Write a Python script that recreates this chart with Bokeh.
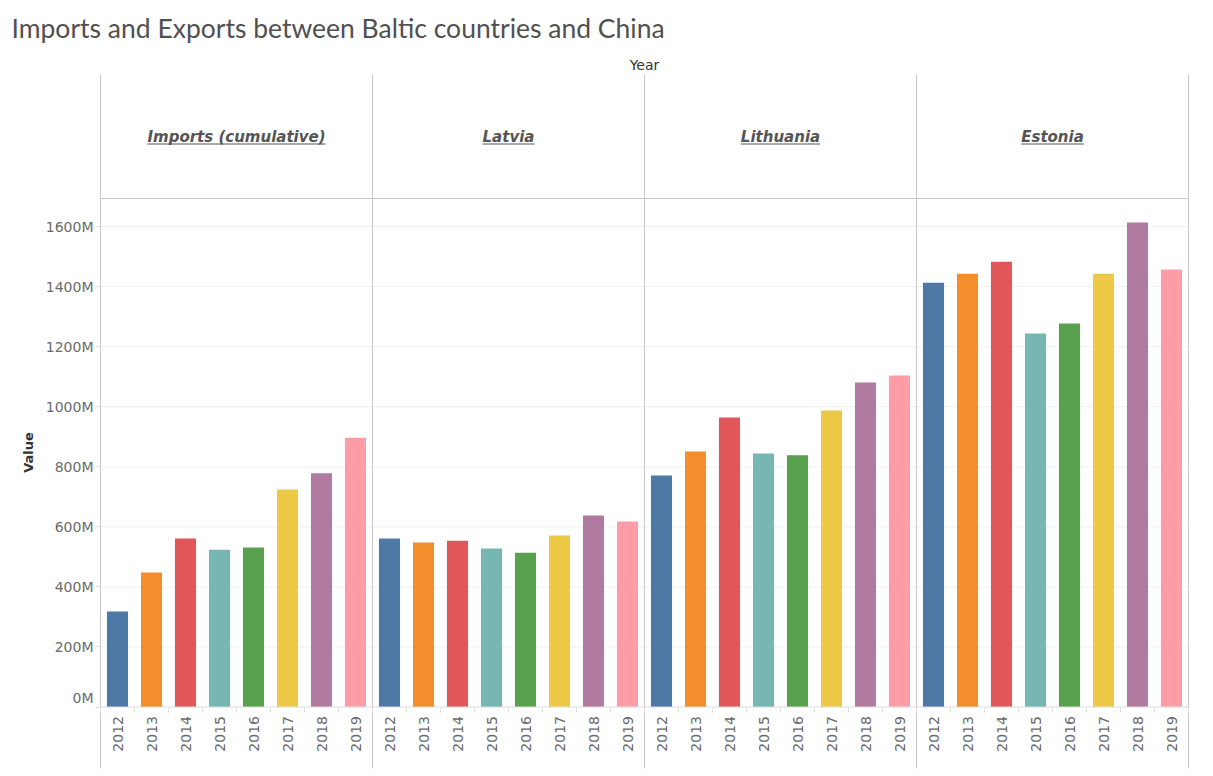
import math
from bokeh.plotting import figure
from bokeh.models import Range1d, FixedTicker, PrintfTickFormatter
from bokeh.core.properties import value
from bokeh.embed import file_html
from bokeh.resources import INLINE

# ---------------- data (values in millions) ----------------
title_text = "Imports and Exports between Baltic countries and China"
column_label = "Year"
value_label = "Value"
panels = ["Imports (cumulative)", "Latvia", "Lithuania", "Estonia"]
years = ["2012", "2013", "2014", "2015", "2016", "2017", "2018", "2019"]
imports_cumulative = [318, 448, 561, 524, 531, 724, 778, 897]
latvia = [561, 548, 554, 528, 514, 571, 638, 618]
lithuania = [771, 851, 964, 844, 838, 987, 1081, 1104]
estonia = [1413, 1443, 1483, 1244, 1277, 1443, 1613, 1457]
y_ticks = [0, 200, 400, 600, 800, 1000, 1200, 1400, 1600]
year_colors = ["#4e79a7", "#f28e2b", "#e15759", "#76b7b2",
               "#59a14f", "#edc948", "#b07aa1", "#ff9da7"]

series = [imports_cumulative, latvia, lithuania, estonia]

# ---------------- layout geometry (page pixels) ----------------
W, H = 1205, 772
FRAME_LEFT, FRAME_RIGHT = 100, 1188
PANEL_TOP, HEADER_BOTTOM, PANEL_BOTTOM = 74, 198, 768
ZERO_Y = 706.5
PX_PER_M = 0.3003
N = len(panels) * len(years)
PX_PER_UNIT = (FRAME_RIGHT - FRAME_LEFT) / N


def val_at(py):
    return (ZERO_Y - py) / PX_PER_M


def x_at(px):
    return (px - FRAME_LEFT) / PX_PER_UNIT


BORDER = "#c9c9c9"
TICK_FONT = "DejaVu Sans"
TICK_SIZE = "14px"
TICK_COLOR = "#6a6a6a"

p = figure(width=W, height=H,
           x_range=Range1d(x_at(0), x_at(W)), y_range=Range1d(val_at(H), val_at(0)),
           output_backend="svg", toolbar_location=None,
           min_border_left=0, min_border_right=0,
           min_border_top=0, min_border_bottom=0)
p.outline_line_color = None
p.background_fill_color = "white"
p.border_fill_color = "white"
p.xgrid.visible = False
p.ygrid.visible = False

# ---------------- gridlines ----------------
grid_vals = [t for t in y_ticks if t > 0]
p.segment(x0=[0] * len(grid_vals), x1=[N] * len(grid_vals), y0=grid_vals, y1=grid_vals,
          line_color="#f0f0f0", line_width=1)

# ---------------- bars ----------------
xs, tops, cols = [], [], []
for pi, vals in enumerate(series):
    for yi, v in enumerate(vals):
        xs.append(pi * len(years) + yi + 0.5)
        tops.append(v)
        cols.append(year_colors[yi])
p.vbar(x=xs, top=tops, bottom=0, width=0.62, fill_color=cols, line_color=None)

# ---------------- baseline, panel borders, header separator ----------------
p.segment(x0=[0], x1=[N], y0=[0], y1=[0], line_color="#dcdcdc", line_width=1)
bx = [k * len(years) for k in range(len(panels) + 1)]
p.segment(x0=bx, x1=bx, y0=[val_at(PANEL_TOP)] * len(bx), y1=[val_at(PANEL_BOTTOM)] * len(bx),
          line_color=BORDER, line_width=1)
p.segment(x0=[0], x1=[N], y0=[val_at(HEADER_BOTTOM)], y1=[val_at(HEADER_BOTTOM)],
          line_color=BORDER, line_width=1)

# ---------------- y axis ----------------
p.yaxis.fixed_location = 0
p.yaxis.ticker = FixedTicker(ticks=y_ticks)
p.yaxis.formatter = PrintfTickFormatter(format="%dM")
p.yaxis.major_label_overrides = {0: ""}
p.yaxis.major_label_text_font = TICK_FONT
p.yaxis.major_label_text_font_size = TICK_SIZE
p.yaxis.major_label_text_color = TICK_COLOR
p.yaxis.major_label_standoff = 2
p.yaxis.axis_line_color = None
p.yaxis.major_tick_line_color = "#e0e0e0"
p.yaxis.major_tick_out = 5
p.yaxis.major_tick_in = 0
p.yaxis.minor_tick_line_color = None
# bottom tick label is nudged up to stay inside the pane, as in the original
p.text(x=[x_at(93)], y=[val_at(697)], text=[f"{y_ticks[0]}M"],
       text_font=value(TICK_FONT), text_font_size=TICK_SIZE, text_color=TICK_COLOR,
       text_align="right", text_baseline="middle")
p.text(x=[x_at(28)], y=[val_at(452)], text=[value_label], angle=math.pi / 2,
       text_font=value("DejaVu Sans"), text_font_style="bold", text_font_size="13px",
       text_color="#333333", text_align="center", text_baseline="middle")

# ---------------- x axis (years) ----------------
centers = [i + 0.5 for i in range(N)]
p.xaxis.fixed_location = 0
p.xaxis.ticker = FixedTicker(ticks=centers, minor_ticks=list(range(N + 1)))
p.xaxis.major_label_overrides = {c: years[i % len(years)] for i, c in enumerate(centers)}
p.xaxis.major_label_orientation = math.pi / 2
p.xaxis.major_label_text_font = TICK_FONT
p.xaxis.major_label_text_font_size = TICK_SIZE
p.xaxis.major_label_text_color = TICK_COLOR
p.xaxis.major_label_standoff = 3
p.xaxis.major_tick_line_color = None
p.xaxis.minor_tick_line_color = "#e0e0e0"
p.xaxis.minor_tick_out = 5
p.xaxis.minor_tick_in = 0
p.xaxis.axis_line_color = None

# ---------------- panel headers (underlined) ----------------
ADV = {" ": 0.348, "(": 0.457, ")": 0.457, "I": 0.372, "L": 0.637, "E": 0.683,
       "a": 0.675, "c": 0.593, "e": 0.678, "h": 0.712, "i": 0.343, "l": 0.343,
       "m": 1.042, "n": 0.712, "o": 0.687, "p": 0.716, "r": 0.493, "s": 0.595,
       "t": 0.478, "u": 0.712, "v": 0.652}
HEAD_SIZE = 15
head_x = [k * len(years) + len(years) / 2 for k in range(len(panels))]
p.text(x=head_x, y=[val_at(136)] * len(panels), text=panels,
       text_font=value("DejaVu Sans"), text_font_style="bold italic",
       text_font_size=f"{HEAD_SIZE}px", text_color="#555555",
       text_align="center", text_baseline="middle")
half_w = [sum(ADV.get(ch, 0.6) for ch in t) * HEAD_SIZE / PX_PER_UNIT / 2 for t in panels]
uy = val_at(143.5)
p.segment(x0=[c - w for c, w in zip(head_x, half_w)],
          x1=[c + w for c, w in zip(head_x, half_w)],
          y0=[uy] * len(panels), y1=[uy] * len(panels),
          line_color="#555555", line_width=1)

# ---------------- title and column label ----------------
p.text(x=[x_at(11)], y=[val_at(27)], text=[title_text],
       text_font=value("Lato"), text_font_size="26.5px", text_color="#505050",
       text_align="left", text_baseline="middle")
p.text(x=[x_at(644)], y=[val_at(64)], text=[column_label],
       text_font=value("DejaVu Sans"), text_font_size="14px", text_color="#333333",
       text_align="center", text_baseline="middle")

open("out.html", "w").write(file_html(p, INLINE))
